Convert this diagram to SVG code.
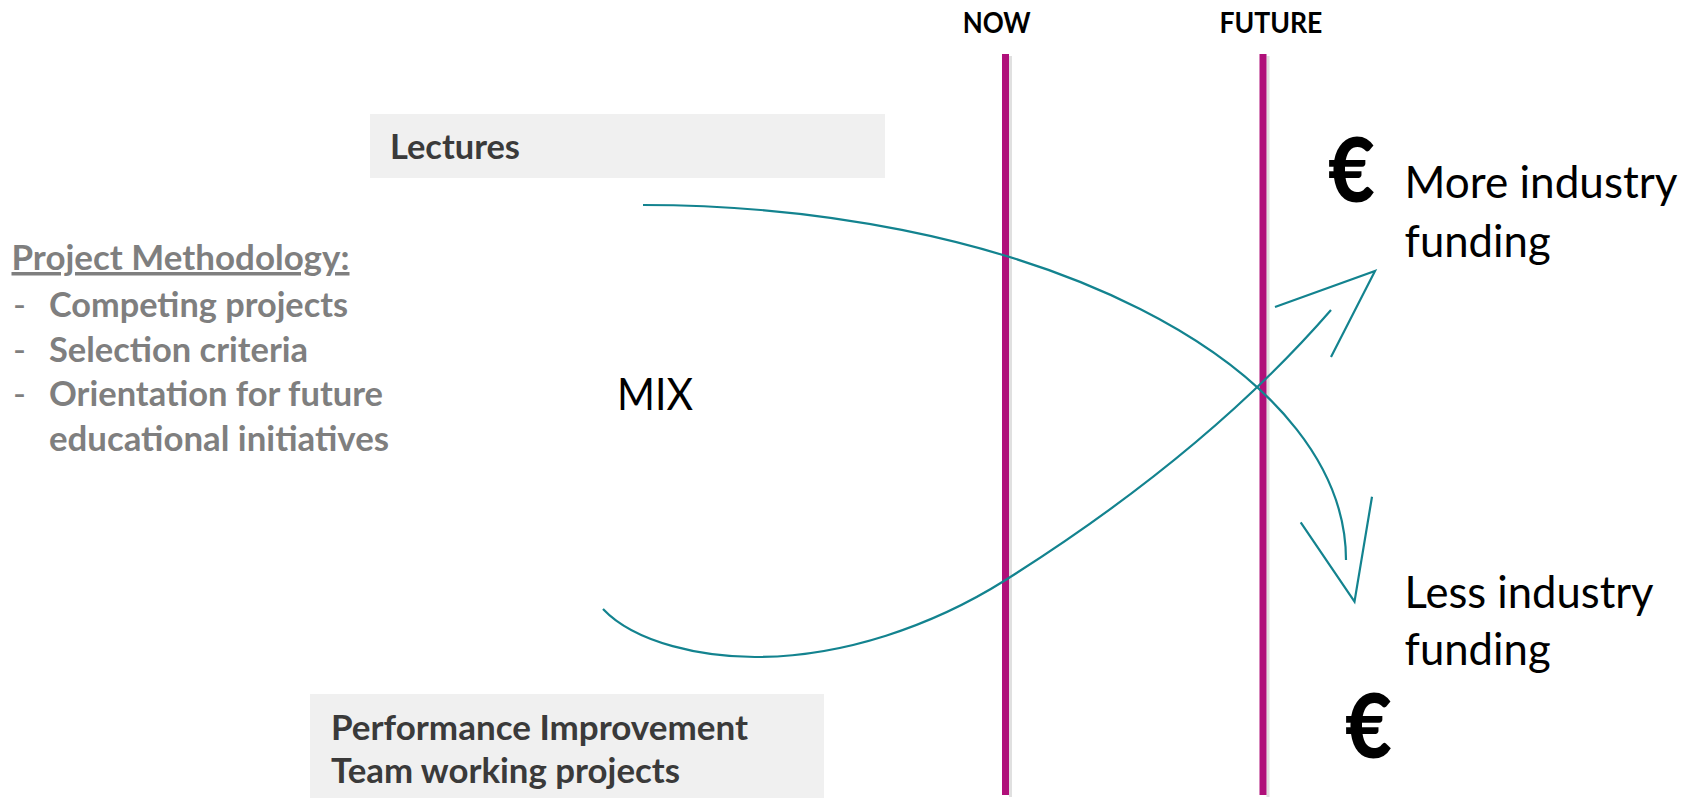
<svg xmlns="http://www.w3.org/2000/svg" width="1691" height="798" viewBox="0 0 1691 798">
<style>
.box{fill:#F0F0F0}
.boxtxt{font-family:Lato,"Open Sans","Liberation Sans",sans-serif;font-weight:700;font-size:35px;fill:#3A3A3A}
.meth{font-family:Lato,"Open Sans","Liberation Sans",sans-serif;font-weight:700;font-size:35px;fill:#7F7F7F}
.dash{font-family:Lato,"Open Sans","Liberation Sans",sans-serif;font-weight:400;font-size:35px;fill:#7F7F7F}
.head{font-family:Lato,"Open Sans","Liberation Sans",sans-serif;font-weight:700;font-size:28px;fill:#000}
.big{font-family:Lato,"Open Sans","Liberation Sans",sans-serif;font-weight:400;font-size:44px;fill:#000}
.euro{font-family:Lato,"Open Sans","Liberation Sans",sans-serif;font-weight:900;font-size:90px;fill:#000}
.vline{stroke:#B0107A;stroke-width:7}
.vshadow{stroke:#D4D4D4;stroke-width:3;opacity:0.7}
.conn{fill:none;stroke:#13838F;stroke-width:2.2;stroke-linecap:butt;stroke-linejoin:miter}
</style>

<g id="timeline-now">
<line class="vshadow" x1="1010.5" y1="56" x2="1010.5" y2="797"/>
<line class="vline" x1="1005.5" y1="54" x2="1005.5" y2="795"/>
<text class="head" x="962.7" y="33" textLength="68" lengthAdjust="spacingAndGlyphs">NOW</text>
</g>

<g id="timeline-future">
<line class="vshadow" x1="1268" y1="56" x2="1268" y2="797"/>
<line class="vline" x1="1263" y1="54" x2="1263" y2="795"/>
<text class="head" x="1219.4" y="33" textLength="103" lengthAdjust="spacingAndGlyphs">FUTURE</text>
</g>

<g id="lectures">
<rect class="box" x="370" y="114" width="515" height="64"/>
<text class="boxtxt" x="390" y="159" textLength="130" lengthAdjust="spacingAndGlyphs">Lectures</text>
</g>

<g id="performance">
<rect class="box" x="310" y="694" width="514" height="104"/>
<text class="boxtxt" x="331" y="740" textLength="417" lengthAdjust="spacingAndGlyphs">Performance Improvement</text>
<text class="boxtxt" x="331" y="783" textLength="349" lengthAdjust="spacingAndGlyphs">Team working projects</text>
</g>

<g id="methodology">
<text class="meth" x="11.5" y="270" textLength="338" lengthAdjust="spacingAndGlyphs" text-decoration="underline">Project Methodology:</text>
<text class="dash" x="13" y="317">-</text>
<text class="meth" x="49" y="317" textLength="299" lengthAdjust="spacingAndGlyphs">Competing projects</text>
<text class="dash" x="13" y="362">-</text>
<text class="meth" x="49" y="362" textLength="259" lengthAdjust="spacingAndGlyphs">Selection criteria</text>
<text class="dash" x="13" y="406">-</text>
<text class="meth" x="49" y="406" textLength="334" lengthAdjust="spacingAndGlyphs">Orientation for future</text>
<text class="meth" x="49" y="451" textLength="340" lengthAdjust="spacingAndGlyphs">educational initiatives</text>
</g>

<g id="mix">
<text class="big" x="617" y="410" textLength="76" lengthAdjust="spacingAndGlyphs">MIX</text>
</g>

<g id="more-funding">
<text class="euro" x="1328" y="202" textLength="47" lengthAdjust="spacingAndGlyphs">€</text>
<text class="big" x="1404.6" y="198" textLength="273" lengthAdjust="spacingAndGlyphs">More industry</text>
<text class="big" x="1404.6" y="257" textLength="146" lengthAdjust="spacingAndGlyphs">funding</text>
</g>

<g id="less-funding">
<text class="big" x="1404.6" y="608" textLength="249" lengthAdjust="spacingAndGlyphs">Less industry</text>
<text class="big" x="1404.6" y="665" textLength="146" lengthAdjust="spacingAndGlyphs">funding</text>
<text class="euro" x="1345" y="758" textLength="47" lengthAdjust="spacingAndGlyphs">€</text>
</g>

<g id="connectors">
<path class="conn" d="M 643 205 A 703 355 0 0 1 1346 560"/>
<polyline class="conn" points="1300.7,522.3 1354.5,601.7 1372,496.7"/>
<path class="conn" d="M 603 609 C 636 644 705 657 755 657 C 843 657 932.8 625.8 1005.6 580 C 1124.9 504.8 1238.5 416.5 1331 310"/>
<polyline class="conn" points="1275,307 1375,271 1331,357"/>
</g>
</svg>
